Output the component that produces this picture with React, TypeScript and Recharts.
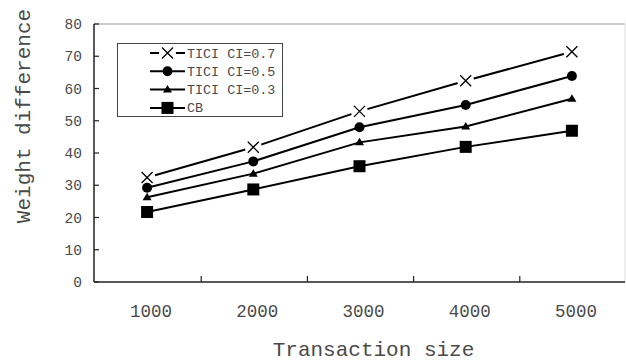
import { LineChart, Line, XAxis, YAxis, Legend, ReferenceLine } from "recharts";

const sizes = [1000, 2000, 3000, 4000, 5000];
const tici07 = [32.4, 41.8, 52.9, 62.4, 71.4];
const tici05 = [29.2, 37.4, 48.0, 54.9, 63.9];
const tici03 = [26.3, 33.6, 43.3, 48.2, 56.8];
const cb = [21.7, 28.7, 35.9, 41.9, 46.9];
const yTicks = [0, 10, 20, 30, 40, 50, 60, 70, 80];
const seriesNames = ["TICI CI=0.7", "TICI CI=0.5", "TICI CI=0.3", "CB"];

const data = sizes.map((size, i) => ({
    size,
    t07: tici07[i],
    t05: tici05[i],
    t03: tici03[i],
    cb: cb[i],
}));

// tick marks sit half way between the category labels
const xTicks = [...sizes, ...sizes.slice(0, -1).map((s) => s + 500)].sort((a, b) => a - b);

const FONT = '"Liberation Mono", "Courier New", monospace';
const TEXT = "#4a4a4a";

// marker shapes, shared by the lines and the legend
const Cross = ({ cx, cy }: { cx: number; cy: number }) => (
    <g>
        <circle cx={cx} cy={cy} r={8.5} fill="#fff" />
        <path d={`M${cx - 5.5},${cy - 5.5}L${cx + 5.5},${cy + 5.5}M${cx + 5.5},${cy - 5.5}L${cx - 5.5},${cy + 5.5}`} stroke="#000" strokeWidth={1.3} />
    </g>
);
const Dot = ({ cx, cy }: { cx: number; cy: number }) => <circle cx={cx} cy={cy} r={5} fill="#000" />;
const Tri = ({ cx, cy }: { cx: number; cy: number }) => (
    <path d={`M${cx},${cy - 4.5}L${cx + 4.5},${cy + 3}L${cx - 4.5},${cy + 3}Z`} fill="#000" />
);
const Sq = ({ cx, cy }: { cx: number; cy: number }) => (
    <rect x={cx - 6} y={cy - 6} width={12} height={12} fill="#000" />
);
const markers = [Cross, Dot, Tri, Sq];

const dotFor = (M: typeof Cross) => (p: any) => <M key={p.index} cx={p.cx} cy={p.cy} />;

const XTick = ({ x, y, payload }: any) => {
    if (payload.value % 1000 === 0) {
        return (
            <text x={x + 4} y={y + 35} textAnchor="middle" fontFamily={FONT} fontSize={17.5} fill={TEXT}>
                {payload.value}
            </text>
        );
    }
    return <line x1={x + 1} x2={x + 1} y1={y} y2={y - 6} stroke="#222" strokeWidth={1.2} />;
};

const YTick = ({ x, y, payload }: any) => (
    <g>
        <text x={x - 12} y={y + 5} textAnchor="end" fontFamily={FONT} fontSize={14.5} fill={TEXT}>
            {payload.value}
        </text>
        <line x1={x} x2={x + 5} y1={y} y2={y} stroke="#222" strokeWidth={1.2} />
    </g>
);

const renderLegend = () => (
    <div style={{ width: 166, height: 74, border: "1px solid #444", background: "#fff", boxSizing: "border-box" }}>
        <svg width={164} height={72}>
            {seriesNames.map((name, i) => {
                const M = markers[i];
                const cy = 9 + i * 18.3;
                return (
                    <g key={name}>
                        <line x1={32} x2={67} y1={cy} y2={cy} stroke="#000" strokeWidth={2} />
                        <M cx={49.5} cy={cy} />
                        <text x={69} y={cy + 4.5} fontFamily={FONT} fontSize={13.4} fill={TEXT}>
                            {name}
                        </text>
                    </g>
                );
            })}
        </svg>
    </div>
);

export default function App() {
    return (
        <div style={{ position: "absolute", left: 0, top: 0, background: "#fff" }}>
            <LineChart width={626} height={363} data={data} margin={{ top: 24, right: 1, left: 0, bottom: 0 }}>
                <XAxis
                    dataKey="size"
                    type="number"
                    domain={[500, 5500]}
                    ticks={xTicks}
                    interval={0}
                    tickLine={false}
                    tickSize={0}
                    tickMargin={0}
                    height={81}
                    tick={<XTick />}
                    axisLine={{ stroke: "#222", strokeWidth: 1.5 }}
                    label={{
                        content: () => (
                            <text x={373.5} y={356} textAnchor="middle" fontFamily={FONT} fontSize={21} fill={TEXT}>
                                Transaction size
                            </text>
                        ),
                    }}
                />
                <YAxis
                    type="number"
                    domain={[0, 80]}
                    ticks={yTicks}
                    interval={0}
                    width={94}
                    tickLine={false}
                    tickSize={0}
                    tickMargin={0}
                    tick={<YTick />}
                    axisLine={{ stroke: "#222", strokeWidth: 1.5 }}
                    label={{
                        content: () => (
                            <text
                                x={24}
                                y={116}
                                transform="rotate(-90 24 116)"
                                textAnchor="middle"
                                dominantBaseline="central"
                                fontFamily={FONT}
                                fontSize={21}
                                fill={TEXT}
                            >
                                Weight difference
                            </text>
                        ),
                    }}
                />
                <ReferenceLine y={80} stroke="#bbb" strokeWidth={1.5} />
                <ReferenceLine x={5500} stroke="#ddd" strokeWidth={1} />
                <Legend
                    layout="vertical"
                    align="center"
                    verticalAlign="middle"
                    content={renderLegend}
                    wrapperStyle={{ left: 117, top: 43, width: 166, height: 74 }}
                />
                <Line dataKey="t07" stroke="#000" strokeWidth={2} dot={dotFor(Cross)} isAnimationActive={false} />
                <Line dataKey="t05" stroke="#000" strokeWidth={2} dot={dotFor(Dot)} isAnimationActive={false} />
                <Line dataKey="t03" stroke="#000" strokeWidth={2} dot={dotFor(Tri)} isAnimationActive={false} />
                <Line dataKey="cb" stroke="#000" strokeWidth={2} dot={dotFor(Sq)} isAnimationActive={false} />
            </LineChart>
        </div>
    );
}
